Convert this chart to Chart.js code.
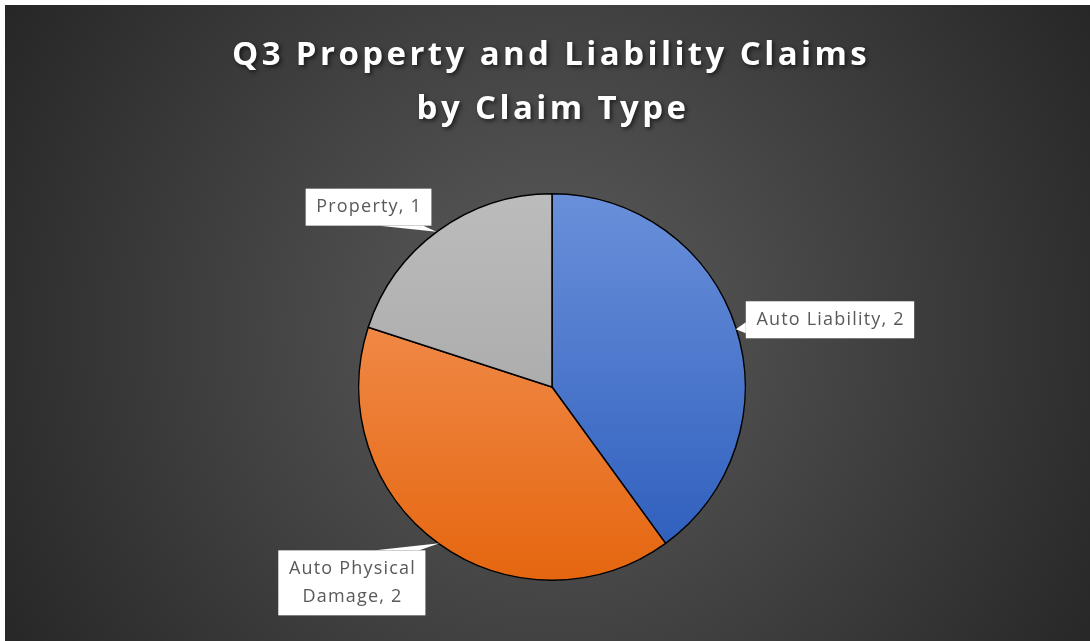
<!DOCTYPE html>
<html>
<head>
<meta charset="utf-8">
<script src="https://cdn.jsdelivr.net/npm/chart.js@4.4.1/dist/chart.umd.min.js"></script>
<style>
  html, body { margin: 0; padding: 0; background: #ffffff; }
  #wrap { width: 1090px; height: 641px; position: relative; }
</style>
</head>
<body>
<div id="wrap"><canvas id="claimsChart"></canvas></div>
<script>
// chart data
var titleLines = ['Q3 Property and Liability Claims', 'by Claim Type'];
var categories = ['Auto Liability', 'Auto Physical Damage', 'Property'];
var claimCounts = [2, 2, 1];

// slice colours, light (top) -> dark (bottom)
var sliceTop = ['#6a90da', '#f59a62', '#bcbcbc'];
var sliceBottom = ['#2a5bbb', '#e5660f', '#9e9e9e'];

function sliceGradient(context) {
    var chart = context.chart;
    var area = chart.chartArea;
    if (!area) return sliceTop[context.dataIndex];
    var g = chart.ctx.createLinearGradient(0, area.top, 0, area.bottom);
    g.addColorStop(0, sliceTop[context.dataIndex]);
    g.addColorStop(1, sliceBottom[context.dataIndex]);
    return g;
}

// dark radial background with a thin white margin top/left
var backdrop = {
    id: 'backdrop',
    beforeDraw: function(chart) {
        var ctx = chart.ctx;
        ctx.save();
        ctx.fillStyle = '#ffffff';
        ctx.fillRect(0, 0, chart.width, chart.height);
        var g = ctx.createRadialGradient(550, 330, 0, 550, 330, 640);
        g.addColorStop(0, '#5c5c5c');
        g.addColorStop(1, '#262626');
        ctx.fillStyle = g;
        ctx.fillRect(5, 5, chart.width - 5, chart.height - 5);
        ctx.restore();
    }
};

// title with a soft shadow
var shadowTitle = {
    id: 'shadowTitle',
    afterDraw: function(chart) {
        var ctx = chart.ctx;
        ctx.save();
        ctx.font = 'bold 33px "Open Sans"';
        ctx.letterSpacing = '3.4px';
        ctx.textAlign = 'center';
        ctx.textBaseline = 'alphabetic';
        ctx.fillStyle = '#ffffff';
        ctx.shadowColor = 'rgba(0,0,0,0.6)';
        ctx.shadowBlur = 4;
        ctx.shadowOffsetX = 2;
        ctx.shadowOffsetY = 2;
        ctx.fillText(titleLines[0], 551, 65);
        ctx.fillText(titleLines[1], 553, 119);
        ctx.restore();
    }
};

function wrapText(ctx, text, maxW) {
    var words = text.split(' ');
    var lines = [];
    var cur = '';
    words.forEach(function(w) {
        var test = cur ? cur + ' ' + w : w;
        if (cur && ctx.measureText(test).width > maxW) {
            lines.push(cur);
            cur = w;
        } else {
            cur = test;
        }
    });
    lines.push(cur);
    return lines;
}

// callout boxes: side the box sits on relative to the anchor
var calloutPlace = ['right', 'below', 'above'];

var callouts = {
    id: 'callouts',
    afterDatasetsDraw: function(chart) {
        var ctx = chart.ctx;
        var arcs = chart.getDatasetMeta(0).data;
        ctx.save();
        ctx.font = '18px "Open Sans"';
        ctx.letterSpacing = '1.2px';
        arcs.forEach(function(arc, i) {
            var mid = (arc.startAngle + arc.endAngle) / 2;
            var ax = arc.x + Math.cos(mid) * arc.outerRadius;
            var ay = arc.y + Math.sin(mid) * arc.outerRadius;
            var text = categories[i] + ', ' + claimCounts[i];
            var lines = wrapText(ctx, text, 160);
            var lineH = 28;
            var textW = Math.max.apply(null, lines.map(function(l) { return ctx.measureText(l).width; }));
            var w = textW + 20;
            var h = lines.length * lineH + 9;
            var bx, by, tri;
            if (calloutPlace[i] === 'right') {
                bx = ax + 10; by = ay - 26;
                tri = [[bx, ay - 5], [ax, ay + 2], [bx, ay + 6]];
            } else if (calloutPlace[i] === 'below') {
                bx = ax - 13 - w; by = ay + 7;
                tri = [[bx + w - 50, by], [ax + 1, ay], [bx + w - 6, by]];
            } else {
                bx = ax - 7 - w; by = ay - 5 - h;
                tri = [[bx + w - 52, by + h], [ax - 2, ay + 1], [bx + w - 8, by + h]];
            }
            ctx.fillStyle = '#ffffff';
            ctx.beginPath();
            ctx.moveTo(tri[0][0], tri[0][1]);
            ctx.lineTo(tri[1][0], tri[1][1]);
            ctx.lineTo(tri[2][0], tri[2][1]);
            ctx.closePath();
            ctx.fill();
            ctx.fillRect(bx, by, w, h);
            ctx.fillStyle = '#595959';
            ctx.textAlign = 'center';
            ctx.textBaseline = 'middle';
            lines.forEach(function(l, k) {
                ctx.fillText(l, bx + w / 2 + 0.6, by + 4.5 + lineH * (k + 0.5));
            });
        });
        ctx.restore();
    }
};

var ctx = document.getElementById('claimsChart').getContext('2d');
var claimsChart = new Chart(ctx, {
    type: 'pie',
    data: {
        labels: categories,
        datasets: [{
            data: claimCounts,
            backgroundColor: sliceGradient,
            borderColor: '#000000',
            borderWidth: 1.5
        }]
    },
    options: {
        responsive: true,
        maintainAspectRatio: false,
        animation: false,
        layout: {
            padding: { top: 193, bottom: 60, left: 358, right: 344 }
        },
        plugins: {
            legend: { display: false },
            title: { display: false },
            tooltip: { enabled: false }
        }
    },
    plugins: [backdrop, shadowTitle, callouts]
});
</script>
</body>
</html>
